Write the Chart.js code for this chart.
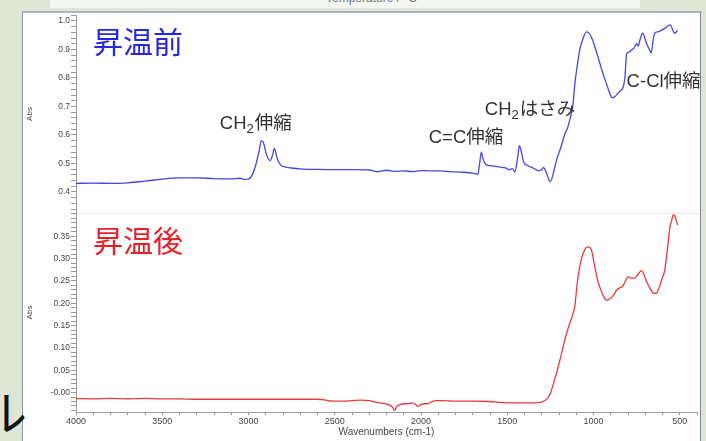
<!DOCTYPE html>
<html>
<head>
<meta charset="utf-8">
<script src="https://cdn.jsdelivr.net/npm/chart.js@4.4.1/dist/chart.umd.min.js"></script>
<style>
  body { margin: 0; background: #dfe6d6; }
  #wrap { position: relative; width: 706px; height: 441px; overflow: hidden; background: #dfe6d6; font-family: "Liberation Sans", Arial, sans-serif; }
  .abs { position: absolute; }
  #topbox { left: 50px; top: 0; width: 590px; height: 8px; background: #f4f6f1; }
  #toptext { left: 326px; top: -9px; font-size: 12px; color: #777; white-space: nowrap; }
  #frameline { left: 22px; top: 11px; width: 680px; height: 2px; background: #a9b3c0; }
  #panel { left: 22px; top: 13px; width: 679px; height: 428px; background: #fff; border-left: 1px solid #8e9ba7; border-right: 1px solid #7f8790; box-sizing: border-box; }
  #sep { left: 77px; top: 213px; width: 622px; height: 1px; background: #e8e8e8; }
  .title { font-family: "Noto Sans CJK JP", sans-serif; font-size: 30px; line-height: 1; white-space: nowrap; }
  #t-before { left: 93px; top: 25px; color: #2626e8; }
  #t-after { left: 93px; top: 224px; color: #ee1d26; }
  #kana { left: -21px; top: 386px; font-family: "Noto Sans CJK JP", sans-serif; font-size: 48px; line-height: 1; color: #111; }
  canvas { position: absolute; }
</style>
</head>
<body>
<div id="wrap">
  <div id="topbox" class="abs"></div>
  <div id="toptext" class="abs">Temperature / °C</div>
  <div id="frameline" class="abs"></div>
  <div id="panel" class="abs"></div>
  <div id="kana" class="abs">ル</div>
  <div id="sep" class="abs"></div>
  <canvas id="c-before" width="680" height="217" style="left:22px;top:4px"></canvas>
  <canvas id="c-after" width="680" height="236" style="left:22px;top:205px"></canvas>
  <div id="t-before" class="abs title">昇温前</div>
  <div id="t-after" class="abs title">昇温後</div>
</div>
<script>
// spectrum before heating (blue)
const waveBefore = [4000, 3900, 3800, 3700, 3600, 3500, 3400, 3300, 3200, 3100, 3050, 3020, 3000, 2980, 2960, 2940, 2925, 2915, 2895, 2875, 2860, 2850, 2835, 2815, 2790, 2750, 2700, 2600, 2500, 2400, 2300, 2250, 2200, 2150, 2100, 2050, 2000, 1950, 1900, 1850, 1800, 1750, 1700, 1670, 1660, 1650, 1640, 1625, 1600, 1550, 1510, 1490, 1470, 1455, 1440, 1430, 1420, 1405, 1380, 1350, 1320, 1300, 1290, 1275, 1260, 1250, 1235, 1215, 1190, 1165, 1150, 1135, 1120, 1108, 1095, 1080, 1060, 1040, 1030, 1010, 990, 965, 945, 925, 905, 890, 870, 850, 830, 818, 808, 795, 780, 765, 750, 740, 730, 715, 705, 692, 680, 665, 655, 645, 625, 605, 585, 565, 555, 545, 530, 520, 512];
const absBefore  = [0.430, 0.431, 0.430, 0.432, 0.438, 0.445, 0.449, 0.449, 0.447, 0.446, 0.448, 0.444, 0.445, 0.458, 0.490, 0.540, 0.580, 0.575, 0.530, 0.510, 0.530, 0.553, 0.520, 0.495, 0.488, 0.484, 0.481, 0.479, 0.478, 0.478, 0.477, 0.471, 0.476, 0.472, 0.474, 0.471, 0.475, 0.474, 0.474, 0.472, 0.470, 0.469, 0.466, 0.462, 0.500, 0.540, 0.515, 0.497, 0.492, 0.488, 0.484, 0.478, 0.482, 0.470, 0.520, 0.562, 0.545, 0.505, 0.492, 0.484, 0.475, 0.478, 0.486, 0.470, 0.445, 0.436, 0.460, 0.510, 0.555, 0.605, 0.625, 0.660, 0.700, 0.780, 0.840, 0.898, 0.940, 0.962, 0.960, 0.940, 0.905, 0.855, 0.815, 0.780, 0.745, 0.730, 0.738, 0.752, 0.765, 0.800, 0.885, 0.890, 0.898, 0.905, 0.920, 0.912, 0.935, 0.957, 0.945, 0.920, 0.905, 0.888, 0.930, 0.957, 0.962, 0.968, 0.975, 0.984, 0.986, 0.975, 0.957, 0.962, 0.968];

// spectrum after heating (red)
const waveAfter = [4000, 3900, 3800, 3700, 3600, 3500, 3400, 3300, 3200, 3000, 2800, 2600, 2550, 2520, 2450, 2400, 2350, 2300, 2260, 2220, 2190, 2165, 2152, 2140, 2120, 2100, 2080, 2050, 2030, 2019, 2000, 1980, 1960, 1940, 1910, 1880, 1800, 1700, 1600, 1550, 1500, 1400, 1330, 1300, 1280, 1265, 1250, 1240, 1225, 1213, 1190, 1167, 1150, 1138, 1120, 1109, 1092, 1069, 1050, 1034, 1020, 1011, 993, 975, 964, 945, 924, 900, 880, 866, 845, 831, 815, 802, 780, 761, 740, 721, 705, 692, 670, 650, 634, 615, 600, 587, 570, 557, 547, 538, 530, 520, 512];
const absAfter  = [-0.0135, -0.014, -0.013, -0.014, -0.013, -0.014, -0.014, -0.015, -0.015, -0.015, -0.015, -0.015, -0.017, -0.019, -0.019, -0.018, -0.017, -0.018, -0.022, -0.024, -0.027, -0.033, -0.040, -0.031, -0.027, -0.025, -0.025, -0.023, -0.027, -0.031, -0.027, -0.025, -0.025, -0.021, -0.018, -0.018, -0.019, -0.019, -0.020, -0.022, -0.023, -0.023, -0.023, -0.021, -0.017, -0.012, -0.002, 0.010, 0.030, 0.045, 0.080, 0.117, 0.140, 0.155, 0.175, 0.192, 0.252, 0.301, 0.320, 0.326, 0.324, 0.318, 0.282, 0.250, 0.237, 0.218, 0.207, 0.211, 0.220, 0.229, 0.235, 0.238, 0.250, 0.259, 0.256, 0.256, 0.266, 0.273, 0.262, 0.248, 0.232, 0.222, 0.223, 0.240, 0.258, 0.274, 0.326, 0.370, 0.385, 0.398, 0.396, 0.385, 0.375];

const xTickValues = [4000, 3500, 3000, 2500, 2000, 1500, 1000, 500];
const xTickLabels = ['4000', '3500', '3000', '2500', '2000', '1500', '1000', '500'];
const yTicksBefore = [0.4, 0.5, 0.6, 0.7, 0.8, 0.9, 1.0];
const yLabelsBefore = ['0.4', '0.5', '0.6', '0.7', '0.8', '0.9', '1.0'];
const yTicksAfter = [0, 0.05, 0.10, 0.15, 0.20, 0.25, 0.30, 0.35];
const yLabelsAfter = ['-0.00', '0.05', '0.10', '0.15', '0.20', '0.25', '0.30', '0.35'];

// band assignments written on the upper spectrum
const bandNotes = [
  { parts: [['CH'], ['2', 'sub'], ['伸縮']], wave: 3166, abs: 0.639 },
  { parts: [['C=C伸縮']], wave: 1955, abs: 0.589 },
  { parts: [['CH'], ['2', 'sub'], ['はさみ']], wave: 1630, abs: 0.688 },
  { parts: [['C-Cl伸縮']], wave: 808, abs: 0.786 }
];

const AXIS_GRAY = '#9a9a9a';
const TICK_FONT = { family: '"Liberation Sans", Arial, sans-serif', size: 8.5 };

const bandNotesPlugin = {
  id: 'bandNotes',
  afterDatasetsDraw(chart, args, opts) {
    if (!opts.notes) return;
    const { ctx, scales: { x, y } } = chart;
    ctx.save();
    ctx.fillStyle = '#333';
    ctx.textBaseline = 'middle';
    opts.notes.forEach(n => {
      let px = x.getPixelForValue(n.wave);
      const py = y.getPixelForValue(n.abs);
      n.parts.forEach(([txt, kind]) => {
        ctx.font = kind === 'sub'
          ? '13px "Liberation Sans", "Noto Sans CJK JP", sans-serif'
          : '18.5px "Liberation Sans", "Noto Sans CJK JP", sans-serif';
        ctx.fillText(txt, px, kind === 'sub' ? py + 6 : py);
        px += ctx.measureText(txt).width + (kind === 'sub' ? 1 : 0);
      });
    });
    ctx.restore();
  }
};

function ticksEvery(min, max, step) {
  const out = [];
  for (let k = Math.ceil(min / step - 1e-9); k * step <= max + 1e-9; k++) out.push({ value: +(k * step).toFixed(4) });
  return out;
}

function labelFor(values, labels) {
  return v => {
    const i = values.findIndex(t => Math.abs(t - v) < 1e-6);
    return i >= 0 ? labels[i] : '';
  };
}

function yScale(min, max, minorStep, values, labels) {
  return {
    min, max,
    afterFit: s => { s.width = 54; },
    afterBuildTicks: s => { s.ticks = ticksEvery(min, max, minorStep); },
    ticks: { autoSkip: false, padding: 1, color: '#444', font: TICK_FONT, callback: labelFor(values, labels) },
    grid: { drawOnChartArea: false, tickLength: 5, color: AXIS_GRAY },
    border: { color: AXIS_GRAY },
    title: { display: true, text: 'Abs', color: '#444', font: { family: TICK_FONT.family, size: 8 }, padding: { top: 3, bottom: 0 } }
  };
}

function spectrum(waves, values, color) {
  return {
    data: waves.map((w, i) => ({ x: w, y: values[i] })),
    borderColor: color,
    borderWidth: 1.3,
    pointRadius: 0,
    cubicInterpolationMode: 'monotone'
  };
}

new Chart(document.getElementById('c-before'), {
  type: 'line',
  data: { datasets: [spectrum(waveBefore, absBefore, '#4646e0')] },
  options: {
    animation: false, responsive: false, events: [],
    layout: { padding: { top: 11, right: 5, bottom: 8, left: 0 } },
    plugins: { legend: { display: false }, tooltip: { enabled: false }, bandNotes: { notes: bandNotes } },
    scales: {
      x: { type: 'linear', reverse: true, min: 400, max: 4000, display: false },
      y: yScale(0.326, 1.021, 0.02, yTicksBefore, yLabelsBefore)
    }
  },
  plugins: [bandNotesPlugin]
});

new Chart(document.getElementById('c-after'), {
  type: 'line',
  data: { datasets: [spectrum(waveAfter, absAfter, '#e8393c')] },
  options: {
    animation: false, responsive: false, events: [],
    layout: { padding: { top: 8, right: 5, bottom: 0, left: 0 } },
    plugins: { legend: { display: false }, tooltip: { enabled: false } },
    scales: {
      x: {
        type: 'linear', reverse: true, min: 400, max: 4000,
        afterFit: s => { s.height = 29; },
        afterBuildTicks: s => { s.ticks = ticksEvery(400, 4000, 100); },
        ticks: { autoSkip: false, maxRotation: 0, minRotation: 0, padding: 1, color: '#444', font: { family: TICK_FONT.family, size: 9 }, callback: labelFor(xTickValues, xTickLabels) },
        grid: { drawOnChartArea: false, tickLength: 3, color: AXIS_GRAY },
        border: { color: AXIS_GRAY },
        title: { display: true, text: 'Wavenumbers (cm-1)', color: '#444', font: { family: TICK_FONT.family, size: 10 }, padding: { top: 0, bottom: 3 } }
      },
      y: yScale(-0.0435, 0.402, 0.01, yTicksAfter, yLabelsAfter)
    }
  }
});
</script>
</body>
</html>
